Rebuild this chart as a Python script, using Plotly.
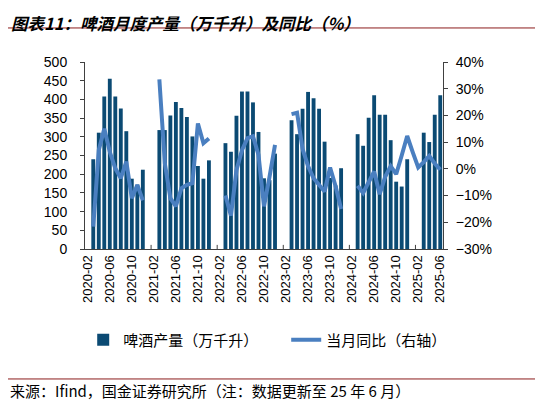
import plotly.graph_objects as go

# categories: 2020-02 .. 2025-06
months = []
for yr in range(2020, 2026):
    for mo in range(1, 13):
        if (yr == 2020 and mo < 2) or (yr == 2025 and mo > 6):
            continue
        months.append(f"{yr}-{mo:02d}")

# 啤酒产量（万千升）
production = [
    None, 240, 311, 408, 455, 408, 376, 315, 188, 172, 212,           # 2020
    None, None, 318, 318, 357, 393, 377, 353, 301, 222, 188, 237,     # 2021
    None, None, 283, 260, 356, 421, 421, 392, 313, 189, 184, 255,     # 2022
    None, None, 344, 307, 375, 420, 403, 375, 287, 190, 170, 216,     # 2023
    None, None, 307, 276, 351, 411, 359, 359, 291, 180, 167, 240,     # 2024
    None, None, 311, 286, 359, 411,                                   # 2025
]

# 当月同比（%）
yoy = [
    None, -21.6, 7.0, 15.0, 6.4, 0.2, -3.5, 2.7, -11.0, -6.0, -11.8,          # 2020
    None, None, 33.5, 2.0, -11.0, -14.0, -7.3, -6.0, -5.4, 17.0, 9.6, 11.4,   # 2021
    None, None, -10.0, -17.5, -0.5, 7.0, 11.5, 12.2, 5.2, -14.0, -3.0, 9.0,   # 2022
    None, None, 20.5, 21.0, 7.5, 1.0, -3.5, -6.0, -8.5, 0.5, -6.5, -15.0,     # 2023
    None, None, -6.3, -9.0, -5.0, -1.0, -9.5, -3.0, 1.0, -2.0, 5.0, 12.3,     # 2024
    6.3, 0.5, 2.5, 4.8, 2.0, -0.3,                                            # 2025
]

tick_labels = [m for i, m in enumerate(months) if i % 4 == 0]

BAR_C = "#0b4a73"
LINE_C = "#4a7fc0"
FONT = "Liberation Sans, Arial, sans-serif"
CJK = "Noto Sans CJK SC"
AX_C = "#404040"

fig = go.Figure()
fig.add_trace(go.Bar(
    x=months, y=production, name="啤酒产量（万千升）",
    marker=dict(color=BAR_C, line=dict(width=0)), yaxis="y", legend="legend",
))
fig.add_trace(go.Scatter(
    x=months, y=yoy, name="当月同比（右轴）", mode="lines",
    line=dict(color=LINE_C, width=4), connectgaps=False, yaxis="y2", legend="legend2",
))

shapes = []
# yearly tick marks on x axis
for k in range(1, 6):
    xv = 12 * k - 0.5
    shapes.append(dict(type="line", xref="x", yref="paper", x0=xv, x1=xv,
                       y0=0, y1=0.022, line=dict(color=AX_C, width=1)))
# title underline and footer line
shapes.append(dict(type="line", xref="paper", yref="paper", x0=-0.26, x1=1.3,
                   y0=1.182, y1=1.182, line=dict(color="#8c1c1c", width=1)))
shapes.append(dict(type="line", xref="paper", yref="paper", x0=-0.26, x1=1.3,
                   y0=-0.695, y1=-0.695, line=dict(color="#8c1c1c", width=1)))

leg_font = dict(family=CJK, size=15, color="#000")
fig.update_layout(
    width=543, height=406,
    margin=dict(l=77, r=108, t=54, b=165),
    paper_bgcolor="white", plot_bgcolor="white",
    bargap=0.3,
    showlegend=True,
    legend=dict(x=-0.005, y=-0.487, xanchor="left", yanchor="middle", font=leg_font,
                bgcolor="rgba(0,0,0,0)", itemwidth=30),
    legend2=dict(x=0.562, y=-0.487, xanchor="left", yanchor="middle", font=leg_font,
                 bgcolor="rgba(0,0,0,0)", itemwidth=30),
    xaxis=dict(type="category", tickmode="array", tickvals=tick_labels, ticktext=tick_labels,
               tickangle=-90, ticks="", showline=True, linecolor=AX_C, linewidth=1,
               tickfont=dict(family=FONT, size=13, color="#000"), showgrid=False,
               range=[-0.5, len(months) - 0.5]),
    yaxis=dict(range=[0, 500], dtick=50, showline=True, linecolor=AX_C, linewidth=1,
               ticks="outside", ticklen=4, tickcolor=AX_C, showgrid=False, zeroline=False,
               ticklabelstandoff=10,
               tickfont=dict(family=FONT, size=14, color="#000")),
    yaxis2=dict(range=[-30, 40], dtick=10, ticksuffix="%", overlaying="y", side="right",
                showline=True, linecolor=AX_C, linewidth=1, ticks="outside", ticklen=4,
                tickcolor=AX_C, showgrid=False, zeroline=False, ticklabelstandoff=5,
                tickfont=dict(family=FONT, size=14, color="#000")),
    shapes=shapes,
    annotations=[
        dict(text="<b><i>图表11：啤酒月度产量（万千升）及同比（%）</i></b>", xref="paper", yref="paper",
             x=-0.212, y=1.283, xanchor="left", yanchor="top", showarrow=False,
             font=dict(family=CJK, size=16.5, color="#000")),
        dict(text="来源：Ifind，国金证券研究所（注：数据更新至 25 年 6 月）", xref="paper", yref="paper",
             x=-0.214, y=-0.759, xanchor="left", yanchor="middle", showarrow=False,
             font=dict(family=CJK, size=15, color="#000")),
    ],
)

fig.write_html("out.html")
